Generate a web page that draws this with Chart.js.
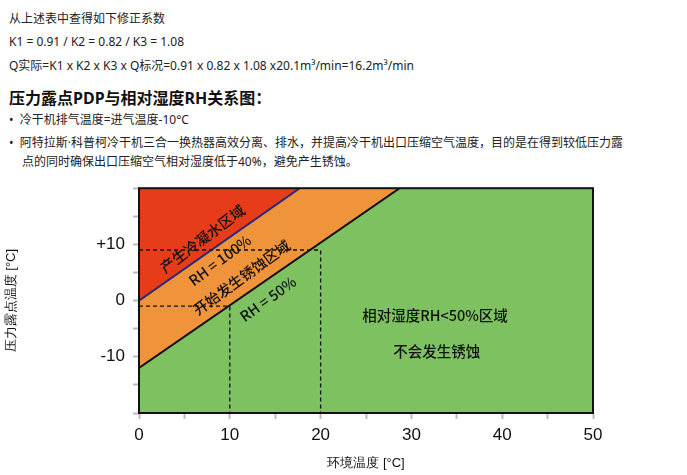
<!DOCTYPE html>
<html><head><meta charset="utf-8">
<script src="https://cdn.jsdelivr.net/npm/chart.js@4"></script>
<style>
body{margin:0;width:687px;height:475px;background:#fff;font-family:"Noto Sans","Noto Sans CJK SC",sans-serif;color:#222;position:relative;overflow:hidden}
.t{position:absolute;left:9px;font-size:12px;white-space:nowrap}
#c{position:absolute;left:0;top:170px}
</style></head><body>
<div class="t" style="top:9px">从上述表中查得如下修正系数</div>
<div class="t" style="top:33px">K1 = 0.91 / K2 = 0.82 / K3 = 1.08</div>
<div class="t" style="top:56px">Q实际=K1 x K2 x K3 x Q标况=0.91 x 0.82 x 1.08 x20.1m³/min=16.2m³/min</div>
<div class="t" style="top:85px;font-size:16px;font-weight:bold;color:#111">压力露点PDP与相对湿度RH关系图：</div>
<div class="t" style="top:110px">•&nbsp; 冷干机排气温度=进气温度-10°C</div>
<div class="t" style="top:133px">•&nbsp; 阿特拉斯·科普柯冷干机三合一换热器高效分离、排水，并提高冷干机出口压缩空气温度，目的是在得到较低压力露</div>
<div class="t" style="top:152px;left:22px">点的同时确保出口压缩空气相对湿度低于40%，避免产生锈蚀。</div>
<canvas id="c" width="687" height="305"></canvas>
<script>
const rh100 = [{x:0,y:0},{x:17.7,y:20}];
const rh50 = [{x:0,y:-12},{x:28.7,y:20}];
const dash1 = [{x:0,y:9},{x:20,y:9},{x:20,y:-20}];
const dash2 = [{x:0,y:-1},{x:10,y:-1},{x:10,y:-20}];
const yLabels = {"-10":"-10","0":"0","10":"+10"};
const labels = [
 {t:"产生冷凝水区域",x:7,y:11,a:-37},
 {t:"RH = 100%",x:8.9,y:7.2,a:-37},
 {t:"开始发生锈蚀区域",x:11.3,y:4.1,a:-36},
 {t:"RH = 50%",x:14.2,y:0.3,a:-36},
 {t:"相对湿度RH<50%区域",x:32.6,y:-2.6,a:0},
 {t:"不会发生锈蚀",x:32.8,y:-9.1,a:0}
];
const deco = {
 id:'deco',
 beforeDatasetsDraw(ch){const {ctx,chartArea:a}=ch;ctx.save();ctx.fillStyle='#7dc160';ctx.fillRect(a.left,a.top,a.right-a.left,a.bottom-a.top);ctx.restore();},
 afterDatasetsDraw(ch){
  const {ctx,chartArea:a,scales:{x,y}}=ch;ctx.save();
  ctx.fillStyle='#111';ctx.font='500 14.5px "Noto Sans CJK SC","Noto Sans",sans-serif';ctx.textAlign='center';ctx.textBaseline='middle';
  labels.forEach(l=>{ctx.save();ctx.translate(x.getPixelForValue(l.x),y.getPixelForValue(l.y));ctx.rotate(l.a*Math.PI/180);ctx.fillText(l.t,0,0);ctx.restore();});
  ctx.strokeStyle='#111';ctx.lineWidth=2;ctx.strokeRect(a.left,a.top,a.right-a.left,a.bottom-a.top);
  ctx.restore();}
};
new Chart(document.getElementById('c'),{
 type:'scatter',
 data:{datasets:[
  {data:rh50,showLine:true,pointRadius:0,borderColor:'#111',borderWidth:2,backgroundColor:'#f0943c',fill:'end',order:3},
  {data:rh100,showLine:true,pointRadius:0,borderColor:'#2a2a7a',borderWidth:2,backgroundColor:'#e63c1a',fill:'end',order:2},
  {data:dash1,showLine:true,pointRadius:0,borderColor:'#111',borderWidth:1.3,borderDash:[4,3],fill:false,order:1},
  {data:dash2,showLine:true,pointRadius:0,borderColor:'#111',borderWidth:1.3,borderDash:[4,3],fill:false,order:1}
 ]},
 options:{responsive:false,animation:false,
  layout:{padding:{top:3,right:94,left:0,bottom:0}},
  plugins:{legend:{display:false},tooltip:{enabled:false}},
  scales:{
   x:{type:'linear',min:0,max:50,
    afterFit(s){s.height=62;},
    grid:{drawOnChartArea:false,color:'#bbb',tickLength:6,tickWidth:2},border:{display:false},
    ticks:{stepSize:5,color:'#111',font:{size:17},padding:6,callback:v=>v%10===0?String(v):''},
    title:{display:true,text:'环境温度 [°C]',color:'#111',font:{size:13},padding:{top:0}}},
   y:{type:'linear',min:-20,max:20,
    afterFit(s){s.width=139;},
    grid:{drawOnChartArea:false,color:'#bbb',tickLength:6,tickWidth:2},border:{display:false},
    ticks:{stepSize:5,color:'#111',font:{size:17},padding:8,callback:v=>yLabels[String(v)]||''},
    title:{display:true,text:'压力露点温度 [°C]',color:'#111',font:{size:13},padding:{bottom:12}}}
  }},
 plugins:[deco]
});
</script>
</body></html>
